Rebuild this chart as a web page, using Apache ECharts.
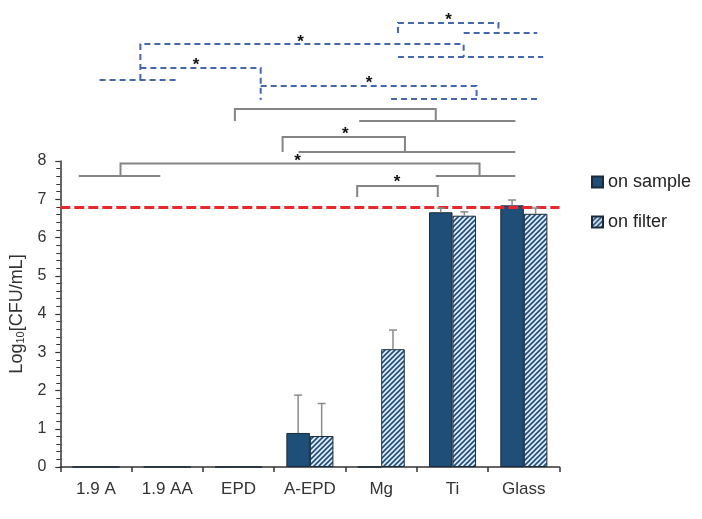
<!DOCTYPE html>
<html><head><meta charset="utf-8">
<script src="https://cdn.jsdelivr.net/npm/echarts@6/dist/echarts.min.js"></script>
<style>html,body{margin:0;padding:0;background:#fff}#c{width:702px;height:519px}</style>
</head><body><div id="c"></div>
<script>
// ---- data ----
const categories = ['1.9 A', '1.9 AA', 'EPD', 'A-EPD', 'Mg', 'Ti', 'Glass'];
const seriesNames = ['on sample', 'on filter'];
const onSample = [0, 0, 0, 0.89, 0, 6.66, 6.84];
const onSampleErr = [0, 0, 0, 0.99, 0, 0.11, 0.14];
const onFilter = [0, 0, 0, 0.81, 3.08, 6.57, 6.62];
const onFilterErr = [0, 0, 0, 0.85, 0.50, 0.10, 0.15];
const yMin = 0, yMax = 8, yStep = 1;
const threshold = 6.78;
// significance brackets, in [category position, log value] units
const solidBrackets = [
  [[1.948, 9.046], [1.948, 9.359], [4.765, 9.359], [4.765, 9.046]],
  [[3.691, 9.046], [5.881, 9.046]],
  [[2.617, 8.235], [2.617, 8.627], [4.333, 8.627], [4.333, 8.235]],
  [[2.840, 8.235], [5.881, 8.235]],
  [[0.344, 7.608], [0.344, 7.935], [5.379, 7.935], [5.379, 7.608]],
  [[4.765, 7.608], [5.881, 7.608]],
  [[-0.242, 7.608], [0.902, 7.608]],
  [[3.663, 7.059], [3.663, 7.346], [4.793, 7.346], [4.793, 7.059]]
];
const dashedBrackets = [
  [[4.235, 11.346], [4.235, 11.608], [5.644, 11.608], [5.644, 11.346]],
  [[5.156, 11.346], [6.188, 11.346]],
  [[0.623, 10.118], [0.623, 11.059], [5.156, 11.059], [5.156, 10.719]],
  [[4.235, 10.719], [6.271, 10.719]],
  [[0.623, 10.431], [2.310, 10.431], [2.310, 9.595]],
  [[0.051, 10.118], [1.167, 10.118]],
  [[2.310, 9.961], [5.337, 9.961], [5.337, 9.621]],
  [[4.137, 9.621], [6.188, 9.621]]
];
const stars = [
  [4.946, 11.79], [2.868, 11.22], [1.404, 10.61], [3.830, 10.14],
  [3.496, 8.81], [2.826, 8.10], [4.221, 7.55]
];

// ---- style ----
const DARK = '#1F4E79';
const FONT = 'Liberation Sans, Arial, sans-serif';
const GAP = 0.34;

function hatch() {
  const s = 5;
  const c = document.createElement('canvas');
  c.width = s; c.height = s;
  const g = c.getContext('2d');
  g.fillStyle = '#dfeaf6';
  g.fillRect(0, 0, s, s);
  g.strokeStyle = DARK;
  g.lineWidth = 1.6;
  g.beginPath();
  g.moveTo(-1, s + 1); g.lineTo(s + 1, -1);
  g.moveTo(-1, 1); g.lineTo(1, -1);
  g.moveTo(s - 1, s + 1); g.lineTo(s + 1, s - 1);
  g.stroke();
  return c;
}

const chart = echarts.init(document.getElementById('c'), null, {renderer: 'canvas'});

function errRender(side) {
  return function (params, api) {
    const i = api.value(0), v = api.value(1), e = api.value(2);
    if (!e) return null;
    const band = api.size([1, 0])[0];
    const off = side * band * (1 - GAP) / 4;
    const b = api.coord([i, v]);
    const t = api.coord([i, v + e]);
    const x = b[0] + off;
    const st = {stroke: '#8a8a8a', lineWidth: 1.5};
    return {type: 'group', children: [
      {type: 'line', shape: {x1: x, y1: b[1], x2: x, y2: t[1]}, style: st},
      {type: 'line', shape: {x1: x - 4, y1: t[1], x2: x + 4, y2: t[1]}, style: st}
    ]};
  };
}

function bracketRender(list, style) {
  return function (params, api) {
    const pts = list[params.dataIndex].map(p => api.coord(p));
    return {type: 'polyline', shape: {points: pts}, style: style};
  };
}

chart.setOption({
  animation: false,
  backgroundColor: '#fff',
  textStyle: {fontFamily: FONT},
  grid: {left: 57.5, right: 142.5, top: 161, bottom: 52, containLabel: false},
  legend: {
    data: seriesNames, orient: 'vertical', left: 586, top: 168,
    itemWidth: 11, itemHeight: 11, itemGap: 22, icon: 'rect',
    textStyle: {fontSize: 18, color: '#222', fontFamily: FONT}
  },
  xAxis: [{
    type: 'category', data: categories,
    axisLine: {lineStyle: {color: '#333', width: 1.5}},
    axisTick: {show: true, length: 5, lineStyle: {color: '#333', width: 1.5}},
    axisLabel: {fontSize: 17, color: '#333', margin: 14, fontFamily: FONT}
  }, {
    type: 'value', min: -0.5, max: 6.5, show: false
  }],
  yAxis: {
    type: 'value', min: yMin, max: yMax, interval: yStep,
    name: '{a|Log}{b|10}{a|[CFU/mL]}', nameLocation: 'middle', nameGap: 31,
    nameTextStyle: {rich: {
      a: {fontSize: 18, color: '#333', fontFamily: FONT},
      b: {fontSize: 11, color: '#333', fontFamily: FONT, padding: [8, 0, 0, 0]}
    }},
    axisLine: {show: true, onZero: false, lineStyle: {color: '#333', width: 1.5}},
    axisTick: {show: true, length: 5, lineStyle: {color: '#333', width: 1.2}},
    minorTick: {show: true, splitNumber: 5, length: 4, lineStyle: {color: '#333', width: 1}},
    splitLine: {show: false},
    axisLabel: {fontSize: 16, color: '#333', margin: 14, fontFamily: FONT}
  },
  series: [{
    name: seriesNames[0], type: 'bar', data: onSample,
    barGap: '0%', barCategoryGap: (GAP * 100) + '%',
    itemStyle: {color: DARK, borderColor: '#1a2a3a', borderWidth: 1},
    markLine: {
      silent: true, symbol: 'none', label: {show: false},
      lineStyle: {color: '#e8282b', width: 3, type: [10, 4]},
      data: [{yAxis: threshold}]
    }
  }, {
    name: seriesNames[1], type: 'bar', data: onFilter,
    barGap: '0%', barCategoryGap: (GAP * 100) + '%',
    itemStyle: {color: {image: hatch(), repeat: 'repeat'}, borderColor: '#1a2a3a', borderWidth: 1}
  }, {
    type: 'custom', name: 'errS', renderItem: errRender(-1), z: 5,
    data: onSample.map((v, i) => [i, v, onSampleErr[i]])
  }, {
    type: 'custom', name: 'errF', renderItem: errRender(1), z: 5,
    data: onFilter.map((v, i) => [i, v, onFilterErr[i]])
  }, {
    type: 'custom', name: 'solid', xAxisIndex: 1, clip: false, z: 6,
    renderItem: bracketRender(solidBrackets, {stroke: '#858585', lineWidth: 2, fill: null}),
    data: solidBrackets.map(b => b[0])
  }, {
    type: 'custom', name: 'dashed', xAxisIndex: 1, clip: false, z: 6,
    renderItem: bracketRender(dashedBrackets, {stroke: '#4467ad', lineWidth: 2, fill: null, lineDash: [6, 4]}),
    data: dashedBrackets.map(b => b[0])
  }, {
    type: 'custom', name: 'stars', xAxisIndex: 1, clip: false, z: 7,
    renderItem: function (params, api) {
      const p = api.coord([api.value(0), api.value(1)]);
      return {type: 'text', x: p[0], y: p[1] + 4, style: {
        text: '*', fontSize: 17, fontWeight: 'bold', fontFamily: FONT,
        fill: '#111', align: 'center', verticalAlign: 'middle'
      }};
    },
    data: stars
  }]
});
</script></body></html>
